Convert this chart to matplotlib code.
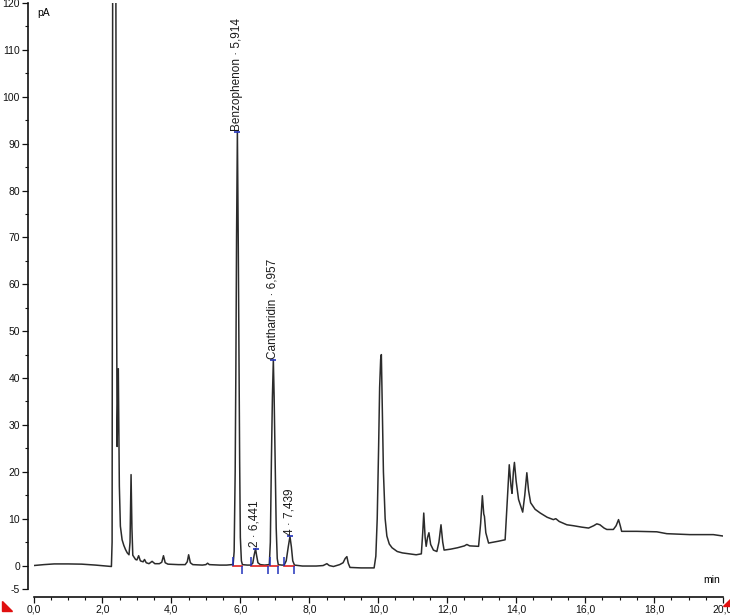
import matplotlib
matplotlib.use("Agg")
import matplotlib.pyplot as plt
from matplotlib.ticker import FixedLocator, MultipleLocator
from matplotlib.patches import Polygon

plt.rcParams['font.family'] = ['Liberation Sans', 'DejaVu Sans']
plt.rcParams['axes.unicode_minus'] = False

# ---- chromatogram trace ----
time_min = [
    0.00, 0.30, 0.60, 1.00, 1.40, 1.80, 2.10, 2.26, 2.28, 2.30, 2.32, 2.34,
    2.37, 2.40, 2.425, 2.445, 2.46, 2.475, 2.49, 2.52, 2.57, 2.62, 2.67, 2.72,
    2.77, 2.80, 2.83, 2.855, 2.88, 2.96, 3.00, 3.05, 3.10, 3.18, 3.22, 3.27,
    3.35, 3.44, 3.52, 3.65, 3.72, 3.77, 3.82, 3.90, 4.20, 4.40, 4.46, 4.50,
    4.55, 4.62, 4.90, 5.00, 5.05, 5.10, 5.40, 5.60, 5.75, 5.79, 5.82, 5.85,
    5.87, 5.89, 5.914, 5.94, 5.96, 5.98, 6.00, 6.03, 6.06, 6.20, 6.30, 6.36,
    6.40, 6.441, 6.47, 6.51, 6.58, 6.70, 6.84, 6.87, 6.90, 6.93, 6.957, 6.98,
    7.01, 7.04, 7.07, 7.10, 7.20, 7.27, 7.33, 7.39, 7.439, 7.48, 7.52, 7.57,
    7.80, 8.20, 8.40, 8.51, 8.58, 8.70, 8.88, 8.98, 9.04, 9.09, 9.13, 9.18,
    9.50, 9.88, 9.93, 9.97, 10.01, 10.04, 10.07, 10.09, 10.12, 10.15, 10.20,
    10.25, 10.32, 10.40, 10.55, 10.70, 10.90, 11.10, 11.25, 11.29, 11.32,
    11.36, 11.39, 11.43, 11.47, 11.52, 11.60, 11.70, 11.76, 11.82, 11.87,
    11.91, 12.10, 12.30, 12.50, 12.57, 12.65, 12.91, 12.97, 13.02, 13.06,
    13.08, 13.12, 13.20, 13.35, 13.49, 13.68, 13.73, 13.80, 13.85, 13.88,
    13.92, 13.95, 14.00, 14.07, 14.19, 14.25, 14.31, 14.36, 14.42, 14.55,
    14.70, 14.90, 15.08, 15.15, 15.25, 15.47, 15.66, 15.90, 16.10, 16.25,
    16.34, 16.43, 16.55, 16.63, 16.82, 16.90, 16.97, 17.02, 17.06, 17.50,
    18.08, 18.37, 19.04, 19.72, 20.00,
]
signal_pa = [
    0.0, 0.2, 0.35, 0.35, 0.3, 0.1, -0.1, -0.2, 5.0, 150.0, 300.0, 300.0,
    200.0, 80.0, 25.4, 35.0, 42.0, 30.0, 17.0, 8.4, 5.5, 4.3, 3.4, 2.7,
    2.3, 5.0, 19.4, 8.0, 2.2, 1.3, 1.2, 2.1, 1.0, 0.8, 1.3, 0.6,
    0.4, 0.9, 0.4, 0.4, 0.7, 2.1, 0.6, 0.3, 0.2, 0.2, 0.8, 2.3,
    0.6, 0.2, 0.1, 0.2, 0.5, 0.2, 0.1, 0.1, 0.2, 0.2, 3.0, 20.0,
    42.0, 70.0, 92.5, 68.0, 45.0, 22.0, 6.0, 1.0, 0.2, 0.1, 0.1, 0.5,
    2.2, 3.6, 2.2, 0.6, 0.2, 0.1, 0.2, 5.0, 22.0, 36.0, 43.8, 36.0,
    22.0, 8.0, 1.5, 0.2, 0.1, 0.1, 1.0, 4.0, 6.2, 4.0, 1.0, 0.1,
    -0.1, -0.1, 0.0, 0.4, 0.0, -0.2, 0.2, 0.6, 1.5, 1.9, 0.5, -0.4,
    -0.5, -0.5, 2.0, 10.0, 25.0, 38.0, 44.0, 45.0, 32.0, 20.0, 10.0,
    6.3, 4.6, 3.8, 3.0, 2.7, 2.5, 2.3, 2.5, 7.0, 11.2,
    6.0, 4.1, 6.0, 7.0, 4.5, 3.3, 3.0, 5.0, 8.7, 5.0,
    3.3, 3.5, 3.8, 4.2, 4.5, 4.2, 4.1, 9.0, 14.9, 11.0,
    10.5, 7.0, 4.8, 5.0, 5.2, 5.5, 12.0, 21.5, 17.0, 15.4,
    20.0, 22.0, 18.0, 14.1, 11.4, 15.0, 19.8, 16.0, 13.4, 12.0,
    11.2, 10.3, 9.8, 10.0, 9.4, 8.7, 8.5, 8.2, 8.0, 8.5,
    8.9, 8.7, 8.0, 7.7, 7.7, 8.5, 9.8, 8.5, 7.3, 7.3,
    7.2, 6.8, 6.6, 6.6, 6.3,
]

# ---- integrated peaks ----
peak_names = ["Benzophenon", "2", "Cantharidin", "4"]
peak_rt = [5.914, 6.441, 6.957, 7.439]
peak_height = [92.5, 3.6, 43.8, 6.2]
peak_start = [5.79, 6.32, 6.86, 7.27]
peak_end = [6.05, 6.81, 7.08, 7.57]

x_ticks = [0, 2, 4, 6, 8, 10, 12, 14, 16, 18, 20]
x_tick_labels = ["0,0", "2,0", "4,0", "6,0", "8,0", "10,0", "12,0",
                 "14,0", "16,0", "18,0", "20,0"]
y_ticks = [-5, 0, 10, 20, 30, 40, 50, 60, 70, 80, 90, 100, 110, 120]
y_tick_labels = ["-5", "0", "10", "20", "30", "40", "50", "60", "70",
                 "80", "90", "100", "110", "120"]

W, H = 730, 615
fig = plt.figure(figsize=(W / 100, H / 100), dpi=100)
ax = fig.add_axes([33.5 / W, 1 - 589 / H, 689.5 / W, 586 / H])

ax.plot(time_min, signal_pa, color="#2b2b2b", lw=1.1, zorder=3)

# baselines and peak delimiters
for s, e in zip(peak_start, peak_end):
    ax.plot([s, e], [0.0, 0.0], color="#e0201e", lw=1.2, zorder=4)
    ax.vlines(s, 0.0, 1.8, color="#2233bb", lw=1.1, zorder=5)
    ax.vlines(e, -1.8, 0.0, color="#2233bb", lw=1.1, zorder=5)

# peak labels
for name, rt, h in zip(peak_names, peak_rt, peak_height):
    label = f"{name} \u00b7 {rt:.3f}".replace(".", ",")
    ax.plot([rt], [h], marker="_", color="#2233bb", ms=5, mew=1.2, zorder=6)
    ax.annotate(label, (rt, h), xytext=(-0.5, 1), textcoords="offset points",
                rotation=90, ha="center", va="bottom", fontsize=8.5,
                color="#1a1a1a", zorder=6)

ax.set_xlim(0, 20)
ax.set_ylim(-5, 120)
ax.xaxis.set_major_locator(FixedLocator(x_ticks))
ax.set_xticklabels(x_tick_labels)
ax.xaxis.set_minor_locator(MultipleLocator(0.5))
ax.yaxis.set_major_locator(FixedLocator(y_ticks))
ax.set_yticklabels(y_tick_labels)
ax.yaxis.set_minor_locator(FixedLocator(list(range(5, 120, 10))))

for side in ("top", "right"):
    ax.spines[side].set_visible(False)
ax.spines["left"].set_position(("outward", 4.3))
ax.spines["bottom"].set_position(("outward", 5.8))
for side in ("left", "bottom"):
    ax.spines[side].set_linewidth(1.2)
    ax.spines[side].set_color("#111111")

ax.tick_params(which="major", length=4, width=0.9, labelsize=7.5, pad=1.5,
               colors="#111111")
ax.tick_params(which="minor", length=2.5, width=0.8, colors="#111111")

fig.text(37 / W, 1 - 8 / H, "pA", va="top", ha="left", fontsize=7.5)
fig.text(703 / W, 1 - 575 / H, "min", va="top", ha="left", fontsize=7.5)

# decorative corner markers
fig.patches.append(Polygon([[2 / W, 1 - 601 / H], [2 / W, 1 - 611 / H],
                            [12 / W, 1 - 611 / H]], closed=True,
                           transform=fig.transFigure, color="#e01010"))
fig.patches.append(Polygon([[730 / W, 1 - 599 / H], [730 / W, 1 - 606 / H],
                            [723 / W, 1 - 606 / H]], closed=True,
                           transform=fig.transFigure, color="#e01010"))

fig.savefig("out.png", dpi=100)
